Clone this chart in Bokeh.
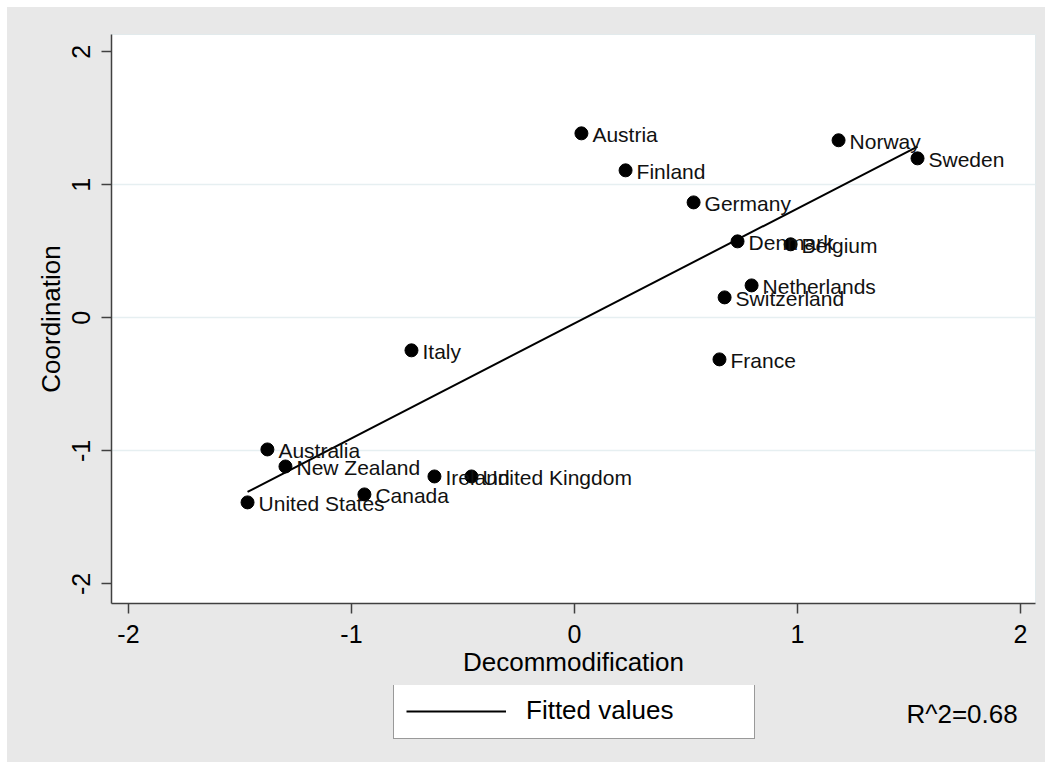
import numpy as np
from bokeh.plotting import figure
from bokeh.layouts import column
from bokeh.models import Range1d, Legend, LegendItem, Label, ColumnDataSource, FixedTicker
from bokeh.core.properties import value
from bokeh.embed import file_html
from bokeh.resources import INLINE

countries = ["Austria", "Finland", "Germany", "Norway", "Sweden", "Denmark", "Belgium",
             "Netherlands", "Switzerland", "France", "Italy", "Australia", "New Zealand",
             "Ireland", "United Kingdom", "Canada", "United States"]
decommodification = [0.031, 0.229, 0.534, 1.184, 1.538, 0.731, 0.969,
                     0.794, 0.673, 0.650, -0.731, -1.377, -1.296,
                     -0.628, -0.462, -0.942, -1.466]
coordination = [1.387, 1.109, 0.868, 1.335, 1.199, 0.575, 0.553,
                0.244, 0.154, -0.312, -0.244, -0.989, -1.117,
                -1.192, -1.192, -1.327, -1.387]
x_ticks = [-2, -1, 0, 1, 2]
y_ticks = [-2, -1, 0, 1, 2]
legend_label = "Fitted values"
r2_text = "R^2=0.68"

FONT = "Liberation Sans"
BG = "#E8E8E8"
W = 1038
BL, BR = 104, 10

p = figure(width=W, height=678, output_backend="svg", toolbar_location=None,
           x_range=Range1d(-2.076, 2.067), y_range=Range1d(-2.147, 2.13),
           min_border_left=BL, min_border_top=27, min_border_right=BR, min_border_bottom=82)
p.border_fill_color = BG
p.border_fill_alpha = 1
p.background_fill_color = "white"
p.outline_line_color = "#E2EAEC"

src = ColumnDataSource(dict(x=decommodification, y=coordination, name=countries))

# fitted line (OLS of coordination on decommodification)
a, b = np.polyfit(np.array(decommodification), np.array(coordination), 1)
xs = np.array([min(decommodification), max(decommodification)])
p.line(xs, a * xs + b, line_color="black", line_width=2)

p.scatter("x", "y", source=src, size=13, fill_color="black", line_color="black")
p.text("x", "y", text="name", source=src, x_offset=11, y_offset=1,
       text_baseline="middle", text_align="left",
       text_font=value(FONT), text_font_size="21px", text_color="#111111")

for ax in (p.xaxis[0], p.yaxis[0]):
    ax.axis_line_color = "#404040"
    ax.axis_line_width = 1.5
    ax.major_tick_line_color = "#404040"
    ax.major_tick_line_width = 1.5
    ax.major_tick_in = 0
    ax.major_tick_out = 10
    ax.minor_tick_line_color = None
    ax.major_label_text_font = FONT
    ax.major_label_text_font_size = "25px"
    ax.major_label_text_color = "black"
    ax.axis_label_text_font = FONT
    ax.axis_label_text_font_size = "26px"
    ax.axis_label_text_font_style = "normal"
    ax.axis_label_text_color = "black"

p.xaxis.ticker = FixedTicker(ticks=x_ticks)
p.yaxis.ticker = FixedTicker(ticks=y_ticks)
p.xaxis.major_label_overrides = {t: str(t) for t in x_ticks}
p.yaxis.major_label_overrides = {t: str(t) for t in y_ticks}
p.xaxis.axis_label = "Decommodification"
p.yaxis.axis_label = "Coordination"
p.yaxis.major_label_orientation = "vertical"
p.xaxis.major_label_standoff = 11
p.yaxis.major_label_standoff = 11
p.xaxis.axis_label_standoff = 1
p.yaxis.axis_label_standoff = 4

p.xgrid.grid_line_color = None
p.ygrid.ticker = FixedTicker(ticks=[-1, 0, 1])
p.ygrid.grid_line_color = "#E6EFF1"
p.ygrid.grid_line_width = 1.5

# bottom strip with legend and R^2 note (data units = pixels from strip's left/bottom)
H2 = 77
p2 = figure(width=W, height=H2, output_backend="svg", toolbar_location=None,
            x_range=Range1d(BL, W - BR), y_range=Range1d(0, H2),
            min_border_left=BL, min_border_right=BR,
            min_border_top=0, min_border_bottom=0)
p2.axis.visible = False
p2.grid.visible = False
p2.outline_line_color = None
p2.background_fill_color = BG
p2.border_fill_color = BG
p2.border_fill_alpha = 1
p2.background_fill_alpha = 1
key = p2.line(x=[np.nan], y=[np.nan], line_color="black", line_width=2)

legend = Legend(items=[LegendItem(label=legend_label, renderers=[key])],
                location=(386 - BL, 23), orientation="vertical")
legend.label_text_font = FONT
legend.label_text_font_size = "26px"
legend.label_text_color = "black"
legend.glyph_width = 100
legend.glyph_height = 26
legend.label_standoff = 20
legend.label_width = 216
legend.label_height = 26
legend.padding = 12
legend.margin = 0
legend.border_line_color = "#333333"
legend.border_line_width = 1.5
legend.background_fill_color = "white"
legend.background_fill_alpha = 1
p2.add_layout(legend, "center")

r2 = Label(x=899, y=49, x_units="data", y_units="data", text=r2_text,
           text_font=FONT, text_font_size="26px", text_baseline="middle", text_color="black")
p2.add_layout(r2)

layout = column(p, p2, spacing=0, margin=(7, 0, 0, 7),
                styles={"background-color": BG})
open("out.html", "w").write(file_html(layout, INLINE))
